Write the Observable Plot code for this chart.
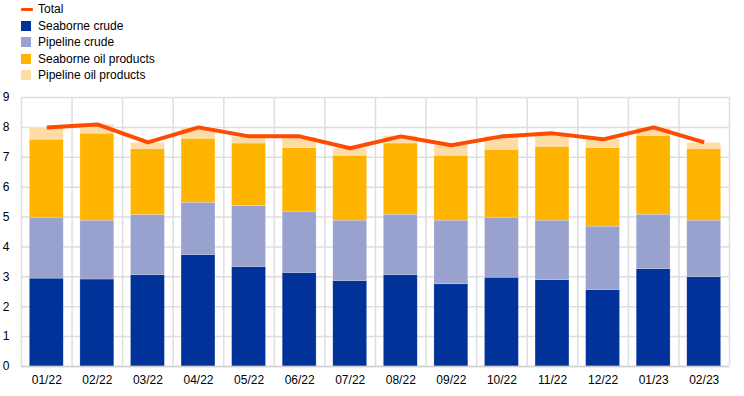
<!DOCTYPE html>
<html>
<head>
<meta charset="utf-8">
<script src="https://cdn.jsdelivr.net/npm/d3@7"></script>
<script src="https://cdn.jsdelivr.net/npm/@observablehq/plot@0.6"></script>
<style>
  html, body { margin: 0; padding: 0; background: #fff; }
  body { width: 744px; height: 396px; overflow: hidden; font-family: "Liberation Sans", Arial, sans-serif; }
  #legend { height: 84px; position: relative; font-size: 12px; color: #000; }
  .row { position: absolute; left: 21px; height: 16px; display: flex; align-items: center; }
  .sw { width: 10px; height: 10px; margin-right: 7px; }
  .ln { width: 12px; height: 3px; margin-right: 5px; border-radius: 1px; }
  #chart svg { display: block; }
</style>
</head>
<body>
<div id="legend"></div>
<div id="chart"></div>
<script>
const months = ["01/22","02/22","03/22","04/22","05/22","06/22","07/22","08/22","09/22","10/22","11/22","12/22","01/23","02/23"];
const seriesNames = ["Seaborne crude","Pipeline crude","Seaborne oil products","Pipeline oil products"];
const seaborneCrude     = [2.94,2.91,3.06,3.73,3.33,3.13,2.86,3.06,2.75,2.97,2.89,2.56,3.26,2.99];
const pipelineCrude     = [2.04,1.97,2.01,1.75,2.04,2.05,2.02,2.02,2.13,2.01,1.99,2.12,1.82,1.89];
const seaborneProducts  = [2.61,2.91,2.21,2.14,2.09,2.13,2.17,2.38,2.17,2.27,2.47,2.63,2.64,2.40];
const pipelineProducts  = [0.39,0.29,0.20,0.36,0.22,0.35,0.24,0.25,0.35,0.45,0.45,0.29,0.28,0.20];
const total             = [8.0,8.1,7.5,8.0,7.7,7.7,7.3,7.7,7.4,7.7,7.8,7.6,8.0,7.5];
const yTicks = [0,1,2,3,4,5,6,7,8,9];

const colors = ["#003299","#99a1cf","#ffb400","#ffdca6"];
const totalColor = "#ff4b00";

const seriesValues = [seaborneCrude, pipelineCrude, seaborneProducts, pipelineProducts];
const rows = [];
seriesNames.forEach((s, si) => months.forEach((m, i) => rows.push({month: m, series: s, value: seriesValues[si][i]})));
const totals = months.map((m, i) => ({month: m, value: total[i]}));

// legend
const legend = document.getElementById("legend");
const items = [{name: "Total", line: true, color: totalColor}].concat(seriesNames.map((n, i) => ({name: n, color: colors[i]})));
items.forEach((it, i) => {
  const r = document.createElement("div");
  r.className = "row";
  r.style.top = (1 + i * 16.5) + "px";
  const s = document.createElement("div");
  s.className = it.line ? "ln" : "sw";
  s.style.background = it.color;
  r.appendChild(s);
  const t = document.createElement("span");
  t.textContent = it.name;
  r.appendChild(t);
  legend.appendChild(r);
});

const W = 744, ML = 21, MR = 15;
const step = (W - ML - MR) / months.length;

const chart = Plot.plot({
  width: W,
  height: 312,
  marginTop: 13,
  marginBottom: 30,
  marginLeft: ML,
  marginRight: MR,
  style: {fontFamily: "Liberation Sans, Arial, sans-serif", fontSize: "12px", color: "#000", background: "#fff"},
  x: {domain: months, paddingInner: 0.33, paddingOuter: 0.165, round: false, label: null, tickSize: 0, tickPadding: 9},
  y: {domain: [0, 9], ticks: yTicks, label: null, tickSize: 0, tickPadding: 12},
  color: {domain: seriesNames, range: colors},
  marks: [
    Plot.ruleY(yTicks, {stroke: "#dedede", strokeWidth: 1.5}),
    Plot.ruleX(months, {x: d => d, dx: -step / 2, stroke: "#dedede", strokeWidth: 1.5}),
    Plot.ruleX(months.slice(-1), {x: d => d, dx: step / 2, stroke: "#dedede", strokeWidth: 1.5}),
    Plot.barY(rows, {x: "month", y: "value", fill: "series", stroke: "#ffffff", strokeOpacity: 0.35, strokeWidth: 0.6}),
    Plot.ruleY([0], {stroke: "#d0d0d0", strokeWidth: 1.5}),
    Plot.lineY(totals, {x: "month", y: "value", stroke: totalColor, strokeWidth: 4, strokeLinejoin: "miter", strokeLinecap: "butt"}),
    Plot.axisX({tickSize: 0, tickPadding: 9, fontSize: 12}),
    Plot.axisY({ticks: yTicks, tickSize: 0, tickPadding: 12, fontSize: 12, tickFormat: d3.format("d")})
  ]
});
document.getElementById("chart").appendChild(chart);
</script>
</body>
</html>
